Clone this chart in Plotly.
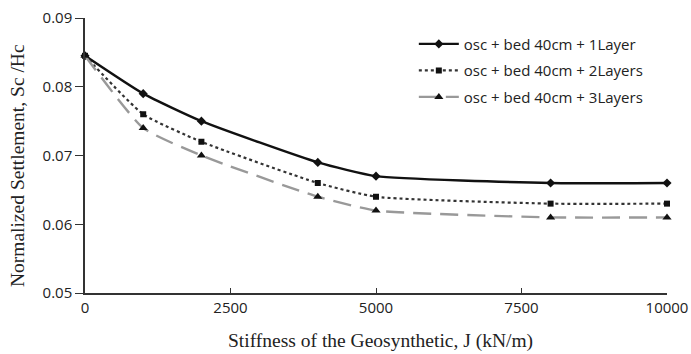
import plotly.graph_objects as go

stiffness = [0, 1000, 2000, 4000, 5000, 8000, 10000]
layer1 = [0.0845, 0.079, 0.075, 0.069, 0.067, 0.066, 0.066]
layer2 = [0.0845, 0.076, 0.072, 0.066, 0.064, 0.063, 0.063]
layer3 = [0.0845, 0.074, 0.070, 0.064, 0.062, 0.061, 0.061]
names = ["osc + bed 40cm + 1Layer", "osc + bed 40cm + 2Layers", "osc + bed 40cm + 3Layers"]
x_ticks = [0, 2500, 5000, 7500, 10000]
y_ticks = [0.05, 0.06, 0.07, 0.08, 0.09]
x_title = "Stiffness of the Geosynthetic, J (kN/m)"
y_title = "Normalized Settlement, Sc /Hc"

fig = go.Figure()
fig.add_trace(go.Scatter(
    x=stiffness, y=layer1, name=names[0], legendgroup="a", mode="lines+markers",
    line=dict(color="#111111", width=2.4, shape="spline", smoothing=0.5),
    marker=dict(symbol="diamond", size=7, color="#111111"), cliponaxis=False))
fig.add_trace(go.Scatter(
    x=stiffness, y=layer2, name=names[1], legendgroup="b", mode="lines+markers",
    line=dict(color="#333333", width=2.2, dash="dot", shape="spline", smoothing=0.5),
    marker=dict(symbol="square", size=6, color="#111111"), cliponaxis=False))
fig.add_trace(go.Scatter(
    x=stiffness, y=layer3, name=names[2], legendgroup="c", mode="lines+markers",
    line=dict(color="#999999", width=2.4, dash="18px,9px", shape="spline", smoothing=0.5),
    marker=dict(symbol="triangle-up", size=8, color="#111111"), cliponaxis=False))

fig.update_layout(
    width=691, height=354,
    margin=dict(l=85, r=24, t=18, b=61, autoexpand=False),
    paper_bgcolor="white", plot_bgcolor="white",
    showlegend=True,
    legend=dict(x=0.565, y=0.965, xanchor="left", yanchor="top",
                font=dict(family="Open Sans", size=15, color="#222222"),
                bgcolor="rgba(0,0,0,0)", tracegroupgap=4, itemwidth=40),
    annotations=[
        dict(text=x_title, xref="paper", yref="paper", x=0.508, y=-0.175,
             xanchor="center", yanchor="middle", showarrow=False,
             font=dict(family="Liberation Serif", size=19.5, color="#222222")),
        dict(text=y_title, xref="paper", yref="paper", x=-0.117, y=0.465,
             xanchor="center", yanchor="middle", showarrow=False, textangle=-90,
             font=dict(family="Liberation Serif", size=19.5, color="#222222")),
    ],
)
fig.update_xaxes(
    range=[0, 10000], tickvals=x_ticks, ticktext=[str(v) for v in x_ticks],
    showgrid=False, zeroline=False, showline=True, linecolor="#333333", linewidth=1.5,
    ticks="inside", ticklen=5, tickcolor="#333333", automargin=False,
    tickfont=dict(family="Open Sans", size=15, color="#222222"),
)
fig.update_yaxes(
    range=[0.05, 0.09], tickvals=y_ticks, ticktext=["%.2f" % v for v in y_ticks],
    showgrid=False, zeroline=False, showline=True, linecolor="#333333", linewidth=1.5,
    ticks="outside", ticklen=8, tickcolor="#333333", automargin=False,
    tickfont=dict(family="Open Sans", size=15, color="#222222"),
)

fig.write_html("out.html")
